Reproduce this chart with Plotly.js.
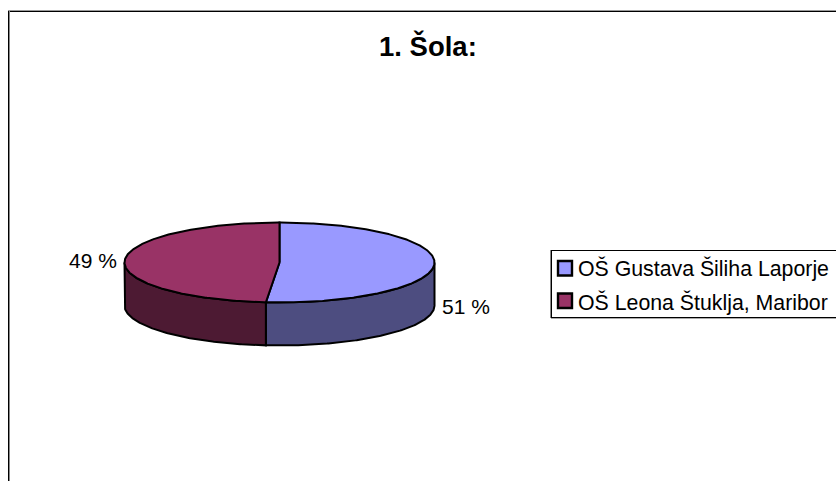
<!DOCTYPE html>
<html><head><meta charset="utf-8">
<script src="https://cdn.plot.ly/plotly-3.0.1.min.js"></script>
<style>html,body{margin:0;padding:0;background:#fff;overflow:hidden}</style></head>
<body><div id="chart" style="width:836px;height:481px"></div>
<script>
const categories = ["OŠ Gustava Šiliha Laporje", "OŠ Leona Štuklja, Maribor"];
const values = [51.4, 48.6];
const topColors = ["#9999FF", "#993366"];
const sideColors = ["#4D4D80", "#4D1A33"];

const cx = 279.5, cy = 262.5, rx = 155, ry = 40, depth = 43;
const FONT = "Liberation Sans, Arial, sans-serif";
const total = values.reduce((a, b) => a + b, 0);
const px = t => cx + rx * Math.sin(t);
const py = t => cy - ry * Math.cos(t);
const TAU = 2 * Math.PI;

function arc(a, b) {
  const n = Math.max(2, Math.ceil(Math.abs(b - a) / 0.01));
  const out = [];
  for (let i = 0; i <= n; i++) out.push(a + (b - a) * i / n);
  return out;
}
const edge = {color: "#000", width: 2};
const traces = [];
function poly(xs, ys, color, name) {
  traces.push({type: "scatter", mode: "lines", x: xs, y: ys, fill: "toself", fillcolor: color,
    line: edge, hoverinfo: "name", name: name, showlegend: false});
}
let start = 0;
const spans = values.map(v => { const s = [start, start + v / total * TAU]; start = s[1]; return s; });

spans.forEach((s, i) => {
  const a = Math.max(s[0], Math.PI / 2), b = Math.min(s[1], 1.5 * Math.PI);
  if (b <= a) return;
  const t = arc(a, b);
  const xs = t.map(px).concat(t.slice().reverse().map(px));
  const ys = t.map(v => py(v)).concat(t.slice().reverse().map(v => py(v) + depth));
  xs.push(xs[0]); ys.push(ys[0]);
  poly(xs, ys, sideColors[i], categories[i] + " (stran)");
});
spans.forEach((s, i) => {
  const t = arc(s[0], s[1]);
  poly([cx].concat(t.map(px), [cx]), [cy].concat(t.map(py), [cy]), topColors[i], categories[i]);
});

const anns = [
  {x: 428, y: 46, text: "<b>1. Šola:</b>", font: {size: 27.5, color: "#000", family: FONT}, xanchor: "center"},
  {x: 117.5, y: 260.5, text: Math.round(values[1]) + " %", font: {size: 21, color: "#000", family: FONT}, xanchor: "right"},
  {x: 441, y: 306.5, text: Math.round(values[0]) + " %", font: {size: 21, color: "#000", family: FONT}, xanchor: "left"},
  {x: 577, y: 268, text: categories[0], font: {size: 21.3, color: "#000", family: FONT}, xanchor: "left"},
  {x: 577, y: 302, text: categories[1], font: {size: 21.3, color: "#000", family: FONT}, xanchor: "left"}
].map(a => Object.assign({xref: "x", yref: "y", yanchor: "middle", showarrow: false, borderpad: 0, align: "left"}, a));

const ln = (x0, y0, x1, y1, color, w) => ({type: "line", xref: "x", yref: "y", x0, y0, x1, y1, line: {color, width: w}, layer: "above"});
const shapes = [
  ln(8, 10.5, 836, 10.5, "#999", 1), ln(8, 11.5, 836, 11.5, "#000", 1),
  ln(8.5, 11, 8.5, 481, "#000", 1), ln(9.5, 11, 9.5, 481, "#888", 1),
  ln(551, 250.5, 836, 250.5, "#000", 1), ln(551, 317.5, 836, 317.5, "#000", 1),
  ln(551, 318.5, 836, 318.5, "#aaa", 1),
  ln(551.5, 250, 551.5, 318, "#000", 1), ln(550.5, 250, 550.5, 318, "#888", 1)
];
categories.forEach((c, i) => {
  const y0 = [261, 293.5][i];
  shapes.push({type: "rect", xref: "x", yref: "y", x0: 558, x1: 572, y0, y1: y0 + 14.5,
    fillcolor: topColors[i], line: {color: "#000", width: 2.4}, layer: "above"});
});

Plotly.newPlot("chart", traces, {
  width: 836, height: 481, margin: {l: 0, r: 0, t: 0, b: 0},
  paper_bgcolor: "#fff", plot_bgcolor: "#fff", showlegend: false,
  xaxis: {range: [0, 836], visible: false, fixedrange: true},
  yaxis: {range: [481, 0], visible: false, fixedrange: true},
  annotations: anns, shapes: shapes
}, {displayModeBar: false, staticPlot: true});
</script></body></html>
